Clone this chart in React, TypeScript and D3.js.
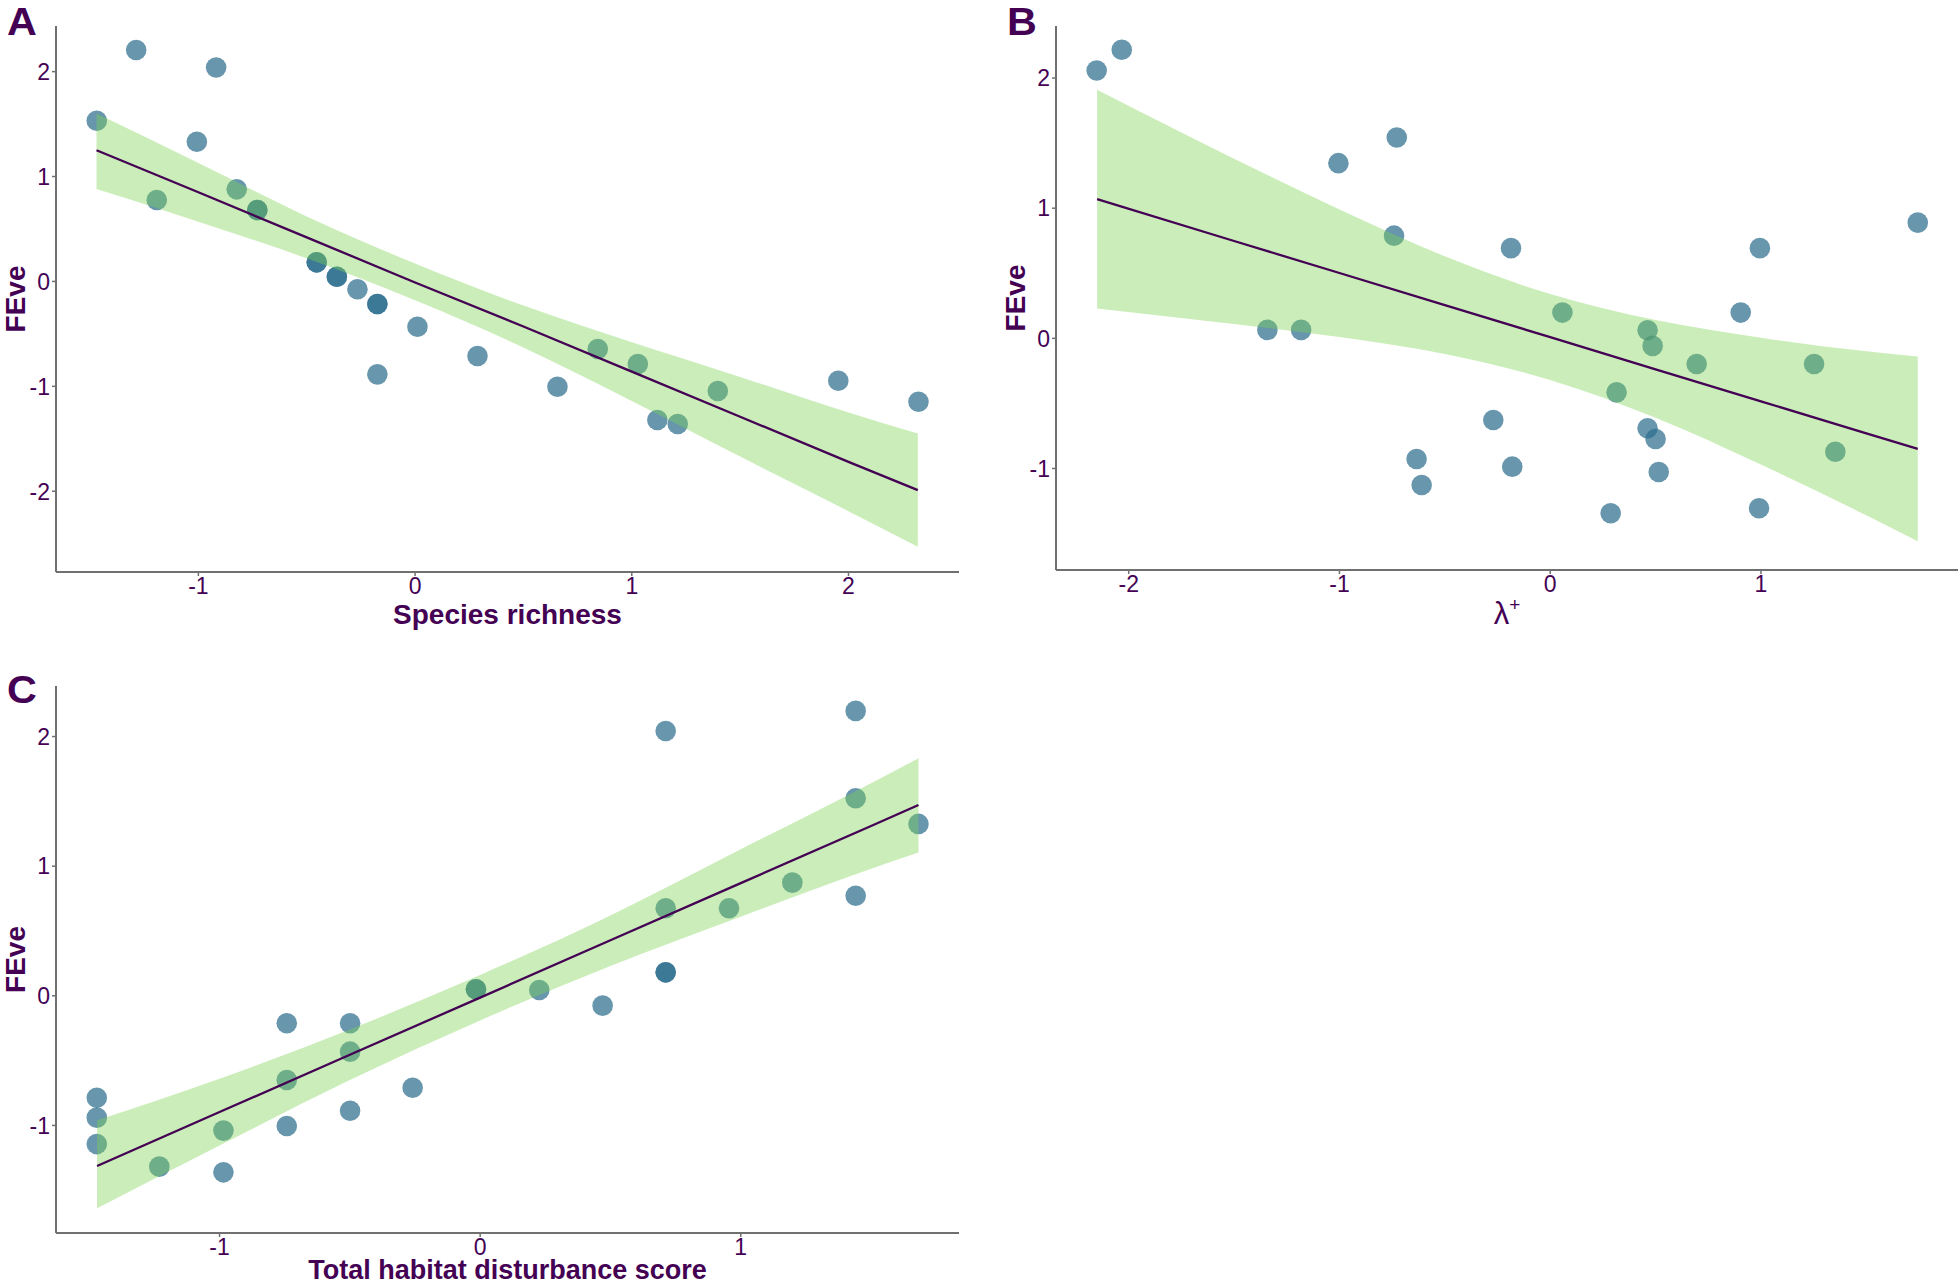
import React from 'react'
import * as d3 from 'd3'

// panel A: FEve vs species richness
const richness = [-1.469, -1.287, -0.918, -1.007, -1.192, -0.823, -0.728, -0.728, -0.454, -0.454, -0.361, -0.361, -0.266, -0.174, -0.174, 0.011, -0.174, 0.288, 0.657, 0.843, 1.028, 1.118, 1.212, 1.397, 1.953, 2.323]
const feveA = [1.532, 2.206, 2.039, 1.332, 0.776, 0.878, 0.681, 0.681, 0.182, 0.182, 0.045, 0.045, -0.075, -0.215, -0.215, -0.432, -0.886, -0.711, -1.004, -0.644, -0.787, -1.321, -1.359, -1.045, -0.947, -1.147]
const bandXA = [-1.47, -1.0, -0.5, 0, 0.5, 1.0, 1.5, 2.0, 2.32]
const fitA = [1.25, 0.85, 0.42, -0.01, -0.43, -0.86, -1.29, -1.72, -1.99]
const lowA = [0.88, 0.57, 0.22, -0.18, -0.63, -1.14, -1.67, -2.19, -2.53]
const highA = [1.6, 1.13, 0.62, 0.17, -0.23, -0.58, -0.91, -1.25, -1.45]

// panel B: FEve vs lambda+
const lambdaPlus = [-2.033, -2.152, -1.005, -0.728, -0.741, -1.342, -1.182, -0.27, -0.634, -0.61, -0.186, 0.995, 1.744, 0.058, 0.904, 0.462, 0.486, 0.695, 1.252, 0.315, 0.462, 0.5, -0.18, 0.515, 1.353, 0.287, 0.991]
const feveB = [2.217, 2.058, 1.346, 1.543, 0.789, 0.065, 0.065, -0.627, -0.927, -1.127, 0.693, 0.693, 0.889, 0.198, 0.198, 0.062, -0.058, -0.197, -0.197, -0.415, -0.691, -0.773, -0.986, -1.027, -0.871, -1.344, -1.306]
const bandXB = [-2.15, -1.5, -1.0, -0.5, 0, 0.5, 1.0, 1.5, 1.744]
const fitB = [1.069, 0.748, 0.502, 0.255, 0.009, -0.238, -0.484, -0.73, -0.85]
const lowB = [0.23, 0.11, 0.01, -0.12, -0.32, -0.61, -0.97, -1.36, -1.56]
const highB = [1.91, 1.38, 0.99, 0.63, 0.34, 0.14, 0.005, -0.1, -0.14]

// panel C: FEve vs total habitat disturbance score
const disturbance = [-1.471, -1.471, -1.471, -1.231, -0.985, -0.985, -0.742, -0.742, -0.742, -0.499, -0.499, -0.499, -0.259, -0.016, -0.016, 0.227, 0.47, 0.712, 0.712, 0.712, 0.712, 0.955, 1.198, 1.441, 1.441, 1.441, 1.682]
const feveC = [-0.786, -0.94, -1.144, -1.318, -1.04, -1.362, -0.212, -0.65, -1.005, -0.212, -0.431, -0.887, -0.709, 0.05, 0.05, 0.045, -0.076, 0.181, 0.181, 0.675, 2.043, 0.675, 0.873, 1.524, 0.772, 2.198, 1.326]
const bandXC = [-1.47, -1.0, -0.5, 0, 0.5, 1.0, 1.5, 1.682]
const fitC = [-1.313, -0.897, -0.455, -0.014, 0.428, 0.869, 1.31, 1.472]
const lowC = [-1.64, -1.155, -0.65, -0.19, 0.23, 0.61, 0.98, 1.105]
const highC = [-0.96, -0.64, -0.26, 0.16, 0.62, 1.13, 1.64, 1.833]

const PURPLE = '#440154'
const AXIS = '#707070'
const FONT = '"Liberation Sans", Arial, sans-serif'

const Panel = ({ label, labelPos, xs, ys, bandX, fit, low, high, box, xDomain, yDomain, xTicks, yTicks, xTitle, titleGap }) => {
  const [left, right, top, bottom] = box
  const x = d3.scaleLinear().domain(xDomain).range([left, right])
  const y = d3.scaleLinear().domain(yDomain).range([bottom, top])

  const band = d3.area<number>()
    .x(d => x(d))
    .y0((d, i) => y(low[i]))
    .y1((d, i) => y(high[i]))
    .curve(d3.curveMonotoneX)
  const fitLine = d3.line<number>()
    .x(d => x(d))
    .y((d, i) => y(fit[i]))

  return (
    <g>
      {/* points first, ribbon and line drawn on top like geom_smooth */}
      {xs.map((v, i) => (
        <circle key={i} cx={x(v)} cy={y(ys[i])} r={10.3} fill="#2D6E8E" fillOpacity={0.72} />
      ))}
      <path d={band(bandX)} fill="#7AD151" fillOpacity={0.4} />
      <path d={fitLine(bandX)} fill="none" stroke={PURPLE} strokeWidth={2.3} />

      <line x1={left} x2={left} y1={top} y2={bottom} stroke={AXIS} strokeWidth={2} />
      <line x1={left} x2={right} y1={bottom} y2={bottom} stroke={AXIS} strokeWidth={2} />
      {yTicks.map(t => (
        <g key={'y' + t}>
          <line x1={left - 4} x2={left} y1={y(t)} y2={y(t)} stroke={AXIS} strokeWidth={1.5} />
          <text x={left - 6} y={y(t)} dy="0.36em" textAnchor="end" fontSize={23} fill={PURPLE}>{t}</text>
        </g>
      ))}
      {xTicks.map(t => (
        <g key={'x' + t}>
          <line x1={x(t)} x2={x(t)} y1={bottom} y2={bottom + 4} stroke={AXIS} strokeWidth={1.5} />
          <text x={x(t)} y={bottom + 22} textAnchor="middle" fontSize={23} fill={PURPLE}>{t}</text>
        </g>
      ))}
      <text transform={`translate(${left - 31},${(top + bottom) / 2}) rotate(-90)`} textAnchor="middle"
        fontSize={28} fontWeight="bold" fill={PURPLE}>FEve</text>
      <g transform={`translate(${(left + right) / 2},${bottom + titleGap})`}>{xTitle}</g>
      <text transform={`translate(${labelPos[0]},${labelPos[1]}) scale(1.06,1)`} fontSize={39} fontWeight="bold" fill={PURPLE}>{label}</text>
    </g>
  )
}

export default function App() {
  return (
    <svg width={1960} height={1285} style={{ position: 'absolute', left: 0, top: 0, background: '#fff' }} fontFamily={FONT}>
      <rect width={1960} height={1285} fill="#fff" />
      <Panel label="A" labelPos={[7, 35]} xs={richness} ys={feveA}
        bandX={bandXA} fit={fitA} low={lowA} high={highA}
        box={[56, 959, 26, 572]} xDomain={[-1.657, 2.51]} yDomain={[-2.77, 2.435]}
        xTicks={[-1, 0, 1, 2]} yTicks={[-2, -1, 0, 1, 2]} titleGap={52}
        xTitle={<text textAnchor="middle" fontSize={28} fontWeight="bold" fill={PURPLE}>Species richness</text>} />
      <Panel label="B" labelPos={[1007, 35]} xs={lambdaPlus} ys={feveB}
        bandX={bandXB} fit={fitB} low={lowB} high={highB}
        box={[1056, 1958, 26, 570]} xDomain={[-2.345, 1.935]} yDomain={[-1.78, 2.4]}
        xTicks={[-2, -1, 0, 1]} yTicks={[-1, 0, 1, 2]} titleGap={54}
        xTitle={<text textAnchor="middle" fontSize={31} fill={PURPLE}>λ<tspan fontSize={19} dy={-13}>+</tspan></text>} />
      <Panel label="C" labelPos={[7, 703]} xs={disturbance} ys={feveC}
        bandX={bandXC} fit={fitC} low={lowC} high={highC}
        box={[56, 959, 686, 1233]} xDomain={[-1.6275, 1.8375]} yDomain={[-1.83, 2.39]}
        xTicks={[-1, 0, 1]} yTicks={[-1, 0, 1, 2]} titleGap={46}
        xTitle={<text textAnchor="middle" fontSize={27} fontWeight="bold" fill={PURPLE}>Total habitat disturbance score</text>} />
    </svg>
  )
}
